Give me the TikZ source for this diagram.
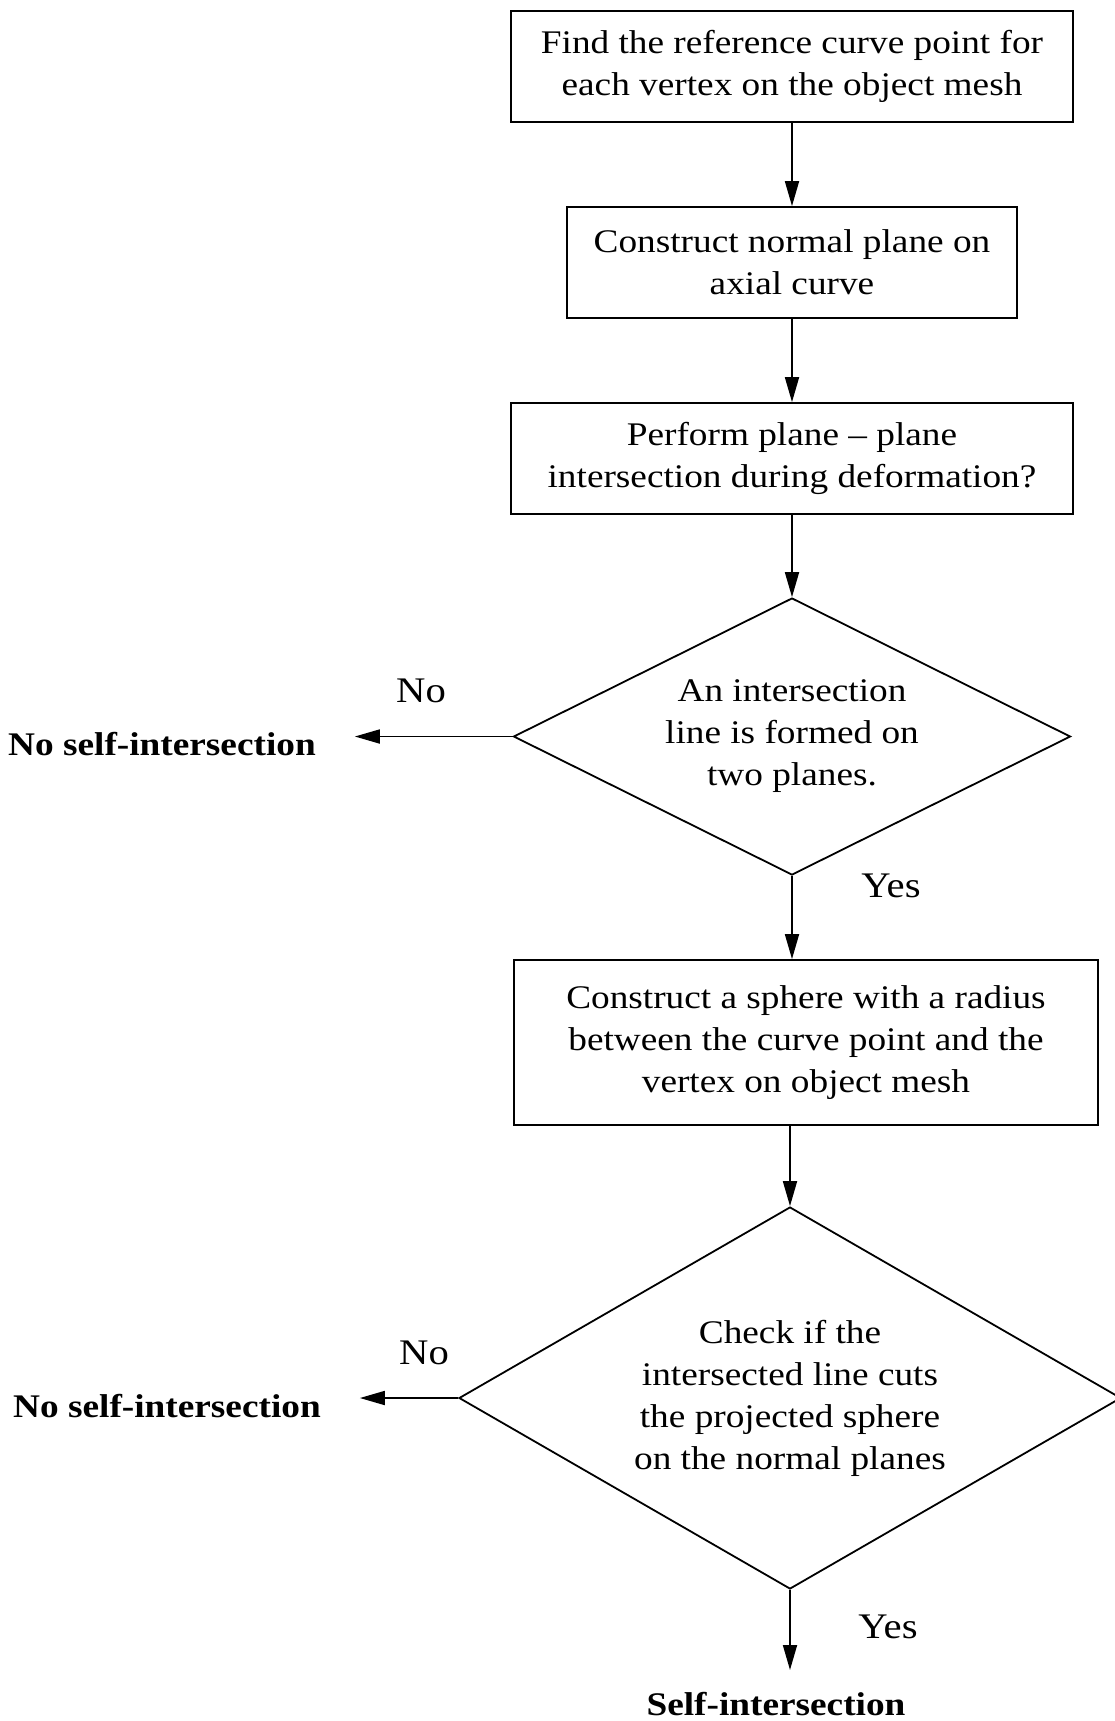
\documentclass[tikz,border=0pt]{standalone}
\usepackage{fontspec}
\setmainfont{Liberation Serif}[FakeStretch=1.13]
\usetikzlibrary{shapes.geometric,arrows.meta}
\begin{document}
\begin{tikzpicture}[x=0.5pt,y=-0.5pt,
    every node/.style={font=\fontsize{16.5}{21}\selectfont},
    stepbox/.style={draw,line width=0.9pt,align=center,inner sep=0,minimum height=55.5pt},
    decide/.style={draw,diamond,line width=0.9pt,align=center,inner sep=0,aspect=2},
    flow/.style={-{Triangle[length=12.5pt,width=7pt]},line width=0.9pt},
    answer/.style={font=\fontsize{18}{22}\selectfont},
    outcome/.style={font=\bfseries\fontsize{16.5}{22}\selectfont}]
  \useasboundingbox (0,0) rectangle (1115,1721);
  % process boxes
  \node[stepbox,minimum width=281pt] (find) at (792,66.5)
    {Find the reference curve point for\\each vertex on the object mesh};
  \node[stepbox,minimum width=225pt] (normal) at (792,262.5)
    {Construct normal plane on\\axial curve};
  \node[stepbox,minimum width=281pt] (plane) at (792,458.5)
    {Perform plane -- plane\\intersection during deformation?};
  \node[decide,minimum width=278.5pt,minimum height=138.5pt] (line) at (792,736.5)
    {An intersection\\line is formed on\\two planes.};
  \node[stepbox,minimum width=292pt,minimum height=82.5pt] (sphere) at (806,1042.5)
    {Construct a sphere with a radius\\between the curve point and the\\vertex on object mesh};
  \node[decide,minimum width=331pt,minimum height=191pt] (cut) at (790,1398)
    {Check if the\\intersected line cuts\\the projected sphere\\on the normal planes};
  % outcomes
  \node[outcome] (noselfA) at (162,744) {No self-intersection};
  \node[outcome] (noselfB) at (167,1406) {No self-intersection};
  \node[outcome] (self) at (776,1704) {Self-intersection};
  \node[answer] at (421,691) {No};
  \node[answer] at (891,886) {Yes};
  \node[answer] at (424,1353) {No};
  \node[answer] at (888,1627) {Yes};
  % connectors
  \draw[flow] (find.south) -- (normal.north);
  \draw[flow] (normal.south) -- (plane.north);
  \draw[flow] (plane.south) -- (line.north);
  \draw[flow] (line.south) -- (line.south |- sphere.north);
  \draw[flow] (cut.north |- sphere.south) -- (cut.north);
  \draw[flow,shorten >=16pt] (line.west) -- (noselfA.east |- line.west);
  \draw[flow,shorten >=16pt] (cut.west) -- (noselfB.east |- cut.west);
  \draw[flow] (cut.south) -- (cut.south |- 0,1670);
\end{tikzpicture}
\end{document}
